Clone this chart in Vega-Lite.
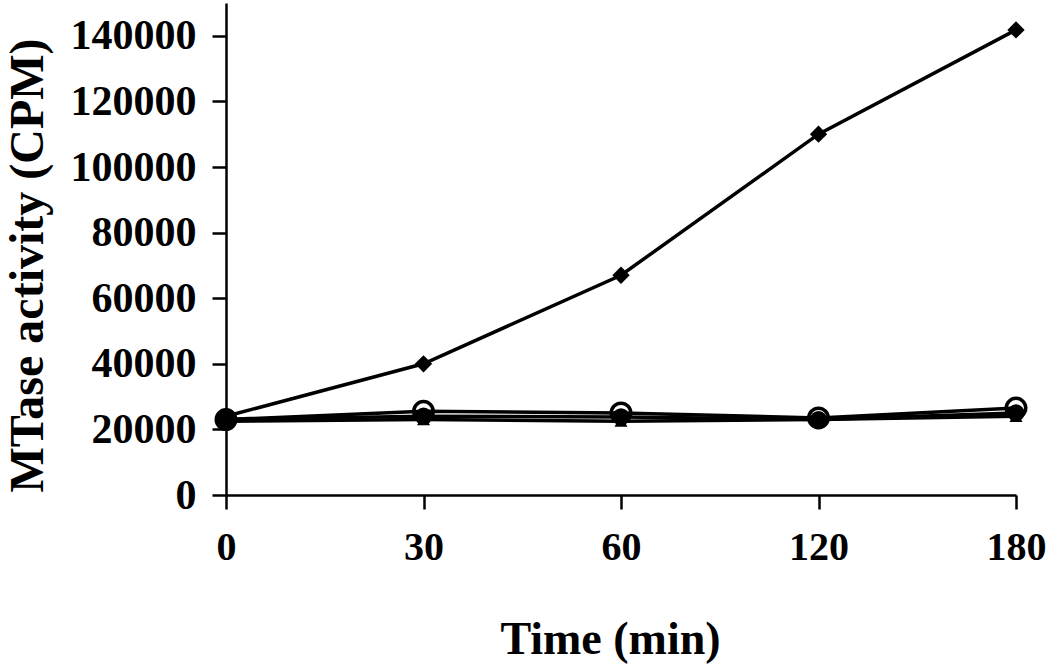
{
  "$schema": "https://vega.github.io/schema/vega-lite/v6.json",
  "autosize": {"type": "none"},
  "width": 790,
  "height": 492,
  "padding": {"left": 226, "top": 3, "right": 34, "bottom": 172},
  "background": "white",
  "config": {
    "view": {"stroke": null},
    "font": "Liberation Serif",
    "axis": {
      "labelFont": "Liberation Serif",
      "titleFont": "Liberation Serif",
      "labelFontWeight": "bold",
      "titleFontWeight": "bold",
      "labelColor": "black",
      "titleColor": "black",
      "domainColor": "black",
      "tickColor": "black",
      "domainWidth": 2.5,
      "tickWidth": 2.5,
      "tickSize": 14,
      "grid": false,
      "labelFontSize": 40,
      "titleFontSize": 40
    }
  },
  "data": {
    "values": [
      {"time": "0", "series": "A", "cpm": 24000},
      {"time": "30", "series": "A", "cpm": 40000},
      {"time": "60", "series": "A", "cpm": 67000},
      {"time": "120", "series": "A", "cpm": 110000},
      {"time": "180", "series": "A", "cpm": 141800},
      {"time": "0", "series": "B", "cpm": 23000},
      {"time": "30", "series": "B", "cpm": 25500},
      {"time": "60", "series": "B", "cpm": 25000},
      {"time": "120", "series": "B", "cpm": 23500},
      {"time": "180", "series": "B", "cpm": 26500},
      {"time": "0", "series": "C", "cpm": 22500},
      {"time": "30", "series": "C", "cpm": 23000},
      {"time": "60", "series": "C", "cpm": 22500},
      {"time": "120", "series": "C", "cpm": 23000},
      {"time": "180", "series": "C", "cpm": 24000},
      {"time": "0", "series": "D", "cpm": 23000},
      {"time": "30", "series": "D", "cpm": 24000},
      {"time": "60", "series": "D", "cpm": 23800},
      {"time": "120", "series": "D", "cpm": 23000},
      {"time": "180", "series": "D", "cpm": 25000}
    ]
  },
  "encoding": {
    "x": {
      "field": "time",
      "type": "ordinal",
      "sort": ["0", "30", "60", "120", "180"],
      "scale": {"type": "point", "padding": 0},
      "axis": {"title": "Time (min)", "labelAngle": 0, "labelPadding": 18, "titlePadding": 50, "labelFontSize": 40, "titleFontSize": 46, "titleX": 384}
    },
    "y": {
      "field": "cpm",
      "type": "quantitative",
      "scale": {"domain": [0, 150000], "nice": false},
      "axis": {"title": "MTase activity (CPM)", "values": [0, 20000, 40000, 60000, 80000, 100000, 120000, 140000], "format": "d", "labelPadding": 16, "labelFontSize": 42, "titleFontSize": 48, "titlePadding": 18, "titleY": 262, "titleAnchor": "middle"}
    }
  },
  "layer": [
    {
      "mark": {"type": "line", "color": "black", "strokeWidth": 3.5},
      "encoding": {"detail": {"field": "series"}}
    },
    {
      "transform": [{"filter": "datum.series === 'A'"}],
      "mark": {"type": "point", "shape": "diamond", "filled": true, "color": "black", "size": 300, "opacity": 1}
    },
    {
      "transform": [{"filter": "datum.series === 'C'"}],
      "mark": {"type": "point", "shape": "triangle-up", "filled": true, "color": "black", "size": 170, "opacity": 1}
    },
    {
      "transform": [{"filter": "datum.series === 'D'"}],
      "mark": {"type": "point", "shape": "circle", "filled": true, "color": "black", "size": 300, "opacity": 1}
    },
    {
      "transform": [{"filter": "datum.series === 'B'"}],
      "mark": {"type": "point", "shape": "circle", "filled": false, "color": "black", "strokeWidth": 3.5, "size": 380, "opacity": 1}
    }
  ]
}
